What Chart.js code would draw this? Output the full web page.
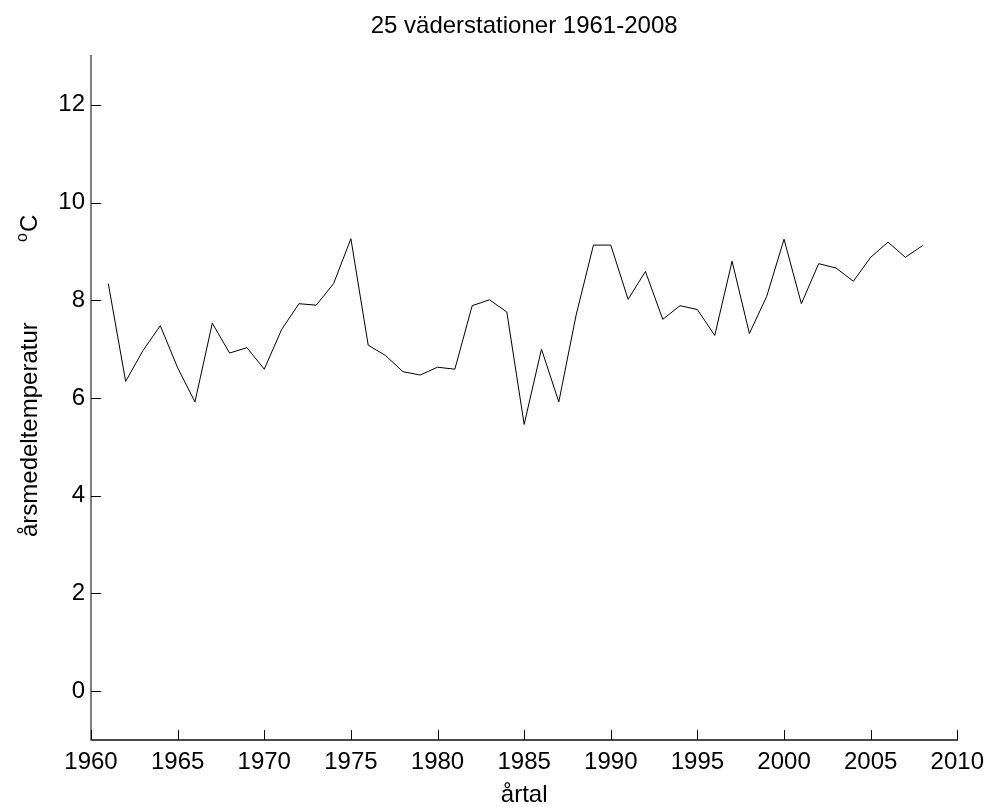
<!DOCTYPE html>
<html>
<head>
<meta charset="utf-8">
<script src="https://cdn.jsdelivr.net/npm/chart.js@4"></script>
<style>
  html, body { margin: 0; padding: 0; background: #fff; }
  #tempChart { display: block; }
</style>
</head>
<body>
<canvas id="tempChart" width="992" height="807"></canvas>
<script>
/* --------------- Data --------------------- */
const years = [
  1961, 1962, 1963, 1964, 1965, 1966, 1967, 1968, 1969, 1970,
  1971, 1972, 1973, 1974, 1975, 1976, 1977, 1978, 1979, 1980,
  1981, 1982, 1983, 1984, 1985, 1986, 1987, 1988, 1989, 1990,
  1991, 1992, 1993, 1994, 1995, 1996, 1997, 1998, 1999, 2000,
  2001, 2002, 2003, 2004, 2005, 2006, 2007, 2008,
];
const meanTemp = [
  8.34, 6.34, 6.97, 7.48, 6.62, 5.92, 7.53, 6.92, 7.03, 6.59,
  7.40, 7.93, 7.90, 8.34, 9.26, 7.08, 6.87, 6.54, 6.47, 6.63,
  6.59, 7.89, 8.01, 7.76, 5.46, 7.00, 5.92, 7.70, 9.13, 9.13,
  8.02, 8.59, 7.61, 7.89, 7.81, 7.28, 8.80, 7.32, 8.08, 9.25,
  7.93, 8.75, 8.66, 8.39, 8.88, 9.19, 8.88, 9.12,
];
const xTicks = [1960, 1965, 1970, 1975, 1980, 1985, 1990, 1995, 2000, 2005, 2010];
const yTicks = [0, 2, 4, 6, 8, 10, 12];

const chartTitle = "25 väderstationer 1961-2008";
const xLabel = "årtal";
const yLabel = "årsmedeltemperatur";

const FONT = "'Liberation Sans', Arial, sans-serif";

/* --------------- Title, y label and inward ticks --------------------- */
const matlabLook = {
  id: "matlabLook",
  afterDraw(chart) {
    const ctx = chart.ctx;
    const area = chart.chartArea;
    const xs = chart.scales.x;
    const ys = chart.scales.y;
    ctx.save();

    // tick marks pointing into the plot
    ctx.strokeStyle = "#000";
    ctx.lineWidth = 1;
    ctx.beginPath();
    xs.ticks.forEach((t) => {
      const px = Math.round(xs.getPixelForValue(t.value)) + 0.5;
      ctx.moveTo(px, area.bottom);
      ctx.lineTo(px, area.bottom - 10);
    });
    ys.ticks.forEach((t) => {
      const py = Math.round(ys.getPixelForValue(t.value)) + 0.5;
      ctx.moveTo(area.left, py);
      ctx.lineTo(area.left + 10, py);
    });
    ctx.stroke();

    ctx.fillStyle = "#000";

    // title
    ctx.font = "24px " + FONT;
    ctx.textAlign = "center";
    ctx.textBaseline = "alphabetic";
    ctx.fillText(chartTitle, (area.left + area.right) / 2, 33);

    // y label with superscript o
    ctx.translate(37, 537);
    ctx.rotate(-Math.PI / 2);
    ctx.textAlign = "left";
    ctx.fillText(yLabel, 0, 0);
    ctx.font = "16px " + FONT;
    ctx.fillText("o", 295, -10);
    const ow = ctx.measureText("o").width;
    ctx.font = "24px " + FONT;
    ctx.fillText("C", 295 + ow + 1, 0);

    ctx.restore();
  },
};

/* --------------- Chart --------------------- */
new Chart(document.getElementById("tempChart"), {
  type: "line",
  plugins: [matlabLook],
  data: {
    datasets: [
      {
        data: years.map((y, i) => ({ x: y, y: meanTemp[i] })),
        borderColor: "#000",
        borderWidth: 1,
        pointRadius: 0,
        tension: 0,
        fill: false,
      },
    ],
  },
  options: {
    responsive: false,
    animation: false,
    layout: { padding: { left: 0, right: 31, top: 56, bottom: 0 } },
    plugins: {
      legend: { display: false },
      tooltip: { enabled: false },
      title: { display: false },
    },
    scales: {
      x: {
        type: "linear",
        min: 1960,
        max: 2010,
        afterBuildTicks: (scale) => {
          scale.ticks = xTicks.map((v) => ({ value: v }));
        },
        afterFit: (scale) => {
          scale.height = 67;
        },
        grid: { display: true, drawOnChartArea: false, drawTicks: false },
        border: { display: true, color: "#4a4a4a", width: 2 },
        ticks: {
          color: "#000",
          padding: 8,
          maxRotation: 0,
          autoSkip: false,
          font: { family: FONT, size: 24 },
          callback: (v) => String(v),
        },
        title: {
          display: true,
          text: xLabel,
          color: "#000",
          font: { family: FONT, size: 24, lineHeight: 1 },
          padding: { top: 0, bottom: 0 },
        },
      },
      y: {
        type: "linear",
        min: -1,
        max: 13,
        afterBuildTicks: (scale) => {
          scale.ticks = yTicks.map((v) => ({ value: v }));
        },
        afterFit: (scale) => {
          scale.width = 91;
        },
        grid: { display: true, drawOnChartArea: false, drawTicks: false },
        border: { display: true, color: "#808080", width: 2 },
        ticks: {
          color: "#000",
          padding: 6,
          autoSkip: false,
          font: { family: FONT, size: 24 },
          callback: (v) => String(v),
        },
      },
    },
  },
});
</script>
</body>
</html>
